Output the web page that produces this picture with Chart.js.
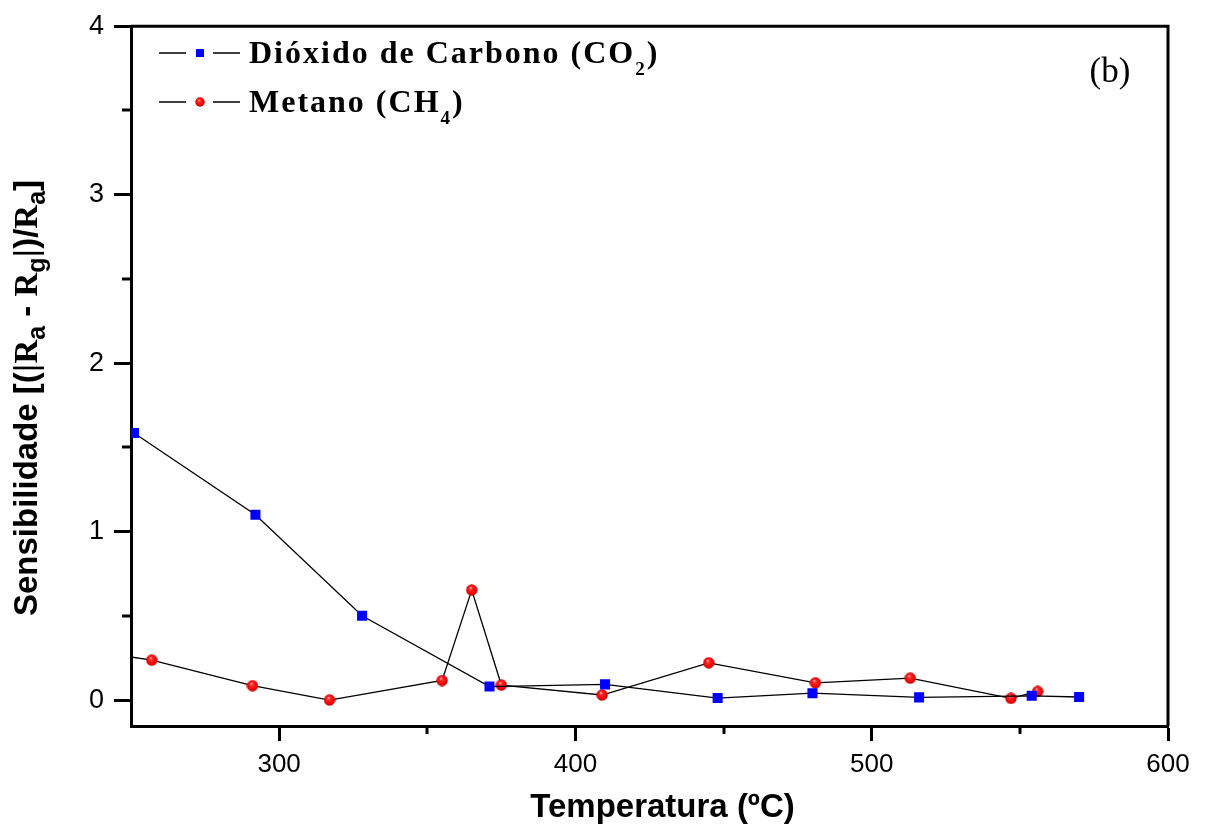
<!DOCTYPE html>
<html>
<head>
<meta charset="utf-8">
<script src="https://cdn.jsdelivr.net/npm/chart.js@4.4.1/dist/chart.umd.min.js"></script>
<style>
  html, body { margin: 0; padding: 0; background: #fff; }
  #wrap { width: 1206px; height: 830px; }
</style>
</head>
<body>
<div id="wrap"><canvas id="sensChart" width="1206" height="830"></canvas></div>
<script>
// Sensibilidade vs temperatura
const CO2_TEMP = [251, 292, 328, 371, 410, 448, 480, 516, 554, 570];
const CO2_SENS = [1.585, 1.10, 0.50, 0.08, 0.093, 0.012, 0.041, 0.016, 0.025, 0.018];

const CH4_TEMP = [222, 257, 291, 317, 355, 365, 375, 409, 445, 481, 513, 547, 556];
const CH4_SENS = [0.33, 0.237, 0.085, 0.0, 0.116, 0.653, 0.089, 0.030, 0.221, 0.102, 0.130, 0.010, 0.051];

const X_TICKS = [300, 400, 500, 600];
const X_MINOR = [350, 450, 550];
const Y_TICKS = [0, 1, 2, 3, 4];
const Y_MINOR = [0.5, 1.5, 2.5, 3.5];

const SANS  = "'Liberation Sans', Arial, sans-serif";
const SERIF = "'Liberation Serif', 'Times New Roman', serif";
const BLUE  = "#0000ff";

// little shaded red ball used as the CH4 marker
function makeBall(d) {
  const c = document.createElement("canvas");
  c.width = d; c.height = d;
  const g = c.getContext("2d");
  const r = d / 2;
  const grad = g.createRadialGradient(r * 0.8, r * 0.6, 0, r, r, r);
  grad.addColorStop(0, "#ffe0e0");
  grad.addColorStop(0.25, "#ff3030");
  grad.addColorStop(0.75, "#f00000");
  grad.addColorStop(1, "#b00000");
  g.fillStyle = grad;
  g.beginPath();
  g.arc(r, r, r - 0.3, 0, Math.PI * 2);
  g.fill();
  return c;
}
const ball = makeBall(12);
const legendBall = makeBall(10);

// draw a run of [text, font, dy] pieces starting at x, returns end x
function drawRuns(ctx, runs, x, y) {
  runs.forEach(([t, f, dy]) => {
    ctx.font = f;
    ctx.fillText(t, x, y + dy);
    x += ctx.measureText(t).width;
  });
  return x;
}
function runsWidth(ctx, runs) {
  let w = 0;
  runs.forEach(([t, f]) => { ctx.font = f; w += ctx.measureText(t).width; });
  return w;
}

// ---------------------------------------------------------------------------
// frame, minor ticks, axis titles, legend and panel tag
// ---------------------------------------------------------------------------
const decorPlugin = {
  id: "decor",
  afterDraw(chart) {
    const { ctx, chartArea: a, scales: { x, y } } = chart;
    ctx.save();
    ctx.strokeStyle = "#000";
    ctx.fillStyle = "#000";

    // top + right frame lines
    ctx.lineWidth = 3;
    ctx.beginPath();
    ctx.moveTo(a.left, a.top);
    ctx.lineTo(a.right, a.top);
    ctx.lineTo(a.right, a.bottom);
    ctx.stroke();

    // minor ticks
    X_MINOR.forEach(v => {
      const px = Math.round(x.getPixelForValue(v));
      ctx.beginPath();
      ctx.moveTo(px, a.bottom);
      ctx.lineTo(px, a.bottom + 8);
      ctx.stroke();
    });
    Y_MINOR.forEach(v => {
      const py = Math.round(y.getPixelForValue(v));
      ctx.beginPath();
      ctx.moveTo(a.left, py);
      ctx.lineTo(a.left - 9, py);
      ctx.stroke();
    });

    // x title
    ctx.textBaseline = "alphabetic";
    ctx.textAlign = "center";
    ctx.font = "bold 33px " + SANS;
    ctx.fillText("Temperatura (ºC)", (a.left + a.right) / 2 + 13, 817);

    // y title, rotated, with subscripts
    ctx.textAlign = "left";
    const B = "bold 33px " + SANS, BS = "bold 25px " + SANS;
    const R = "bold 33px " + SERIF, T = "33px " + SANS;
    const yRuns = [
      ["Sensibilidade [(", B, 0], ["|", T, 0], ["R", R, 0], ["a", BS, 8],
      [" - ", B, 0], ["R", R, 0], ["g", BS, 8], ["|", T, 0], [")/", B, 0],
      ["R", R, 0], ["a", BS, 8], ["]", B, 0],
    ];
    const yw = runsWidth(ctx, yRuns);
    ctx.save();
    ctx.translate(37, 398);
    ctx.rotate(-Math.PI / 2);
    drawRuns(ctx, yRuns, -yw / 2, 0);
    ctx.restore();

    // legend
    const LF = "bold 32px " + SERIF, LS = "bold 19px " + SERIF;
    const rows = [
      { y: 53, runs: [["Dióxido de Carbono (CO", LF, 0], ["2", LS, 12], [")", LF, 0]], kind: "rect" },
      { y: 102, runs: [["Metano (CH", LF, 0], ["4", LS, 12], [")", LF, 0]], kind: "ball" },
    ];
    rows.forEach(r => {
      ctx.lineWidth = 1.3;
      ctx.beginPath();
      ctx.moveTo(159, r.y); ctx.lineTo(186, r.y);
      ctx.moveTo(213, r.y); ctx.lineTo(240, r.y);
      ctx.stroke();
      if (r.kind === "rect") {
        ctx.fillStyle = BLUE;
        ctx.fillRect(196, r.y - 4, 8, 8);
      } else {
        ctx.drawImage(legendBall, 195, r.y - 5);
      }
      ctx.fillStyle = "#000";
      ctx.letterSpacing = "2px";
      drawRuns(ctx, r.runs, 249, r.y + 10);
      ctx.letterSpacing = "0px";
    });

    // panel tag
    ctx.textAlign = "center";
    ctx.font = "35px " + SERIF;
    ctx.fillText("(b)", 1110, 82);

    ctx.restore();
  },
};

const ctx = document.getElementById("sensChart");

new Chart(ctx, {
  type: "line",
  data: {
    datasets: [
      {
        label: "Dióxido de Carbono (CO2)",
        data: CO2_TEMP.map((t, i) => ({ x: t, y: CO2_SENS[i] })),
        borderColor: "#000",
        borderWidth: 1.3,
        pointStyle: "rect",
        pointRadius: 7.1,
        pointBackgroundColor: BLUE,
        pointBorderWidth: 0,
        tension: 0,
      },
      {
        label: "Metano (CH4)",
        data: CH4_TEMP.map((t, i) => ({ x: t, y: CH4_SENS[i] })),
        borderColor: "#000",
        borderWidth: 1.3,
        pointStyle: ball,
        pointRadius: 6,
        tension: 0,
      },
    ],
  },
  options: {
    responsive: false,
    animation: false,
    events: [],
    layout: { padding: { top: 24, right: 38, left: 0, bottom: 0 } },
    plugins: {
      legend: { display: false },
      tooltip: { enabled: false },
    },
    scales: {
      x: {
        type: "linear",
        min: 250,
        max: 600,
        afterBuildTicks: s => { s.ticks = X_TICKS.map(v => ({ value: v })); },
        afterFit: s => { s.height = 104; },
        border: { color: "#000", width: 3 },
        grid: { drawOnChartArea: false, tickLength: 15, tickWidth: 3, tickColor: "#000" },
        ticks: { color: "#000", font: { family: SANS, size: 26 }, padding: 8, maxRotation: 0 },
      },
      y: {
        type: "linear",
        min: -0.154,
        max: 4,
        afterBuildTicks: s => { s.ticks = Y_TICKS.map(v => ({ value: v })); },
        afterFit: s => { s.width = 131; },
        border: { color: "#000", width: 3 },
        grid: { drawOnChartArea: false, tickLength: 17, tickWidth: 3, tickColor: "#000" },
        ticks: { color: "#000", font: { family: SANS, size: 27 }, padding: 10 },
      },
    },
  },
  plugins: [decorPlugin],
});
</script>
</body>
</html>
